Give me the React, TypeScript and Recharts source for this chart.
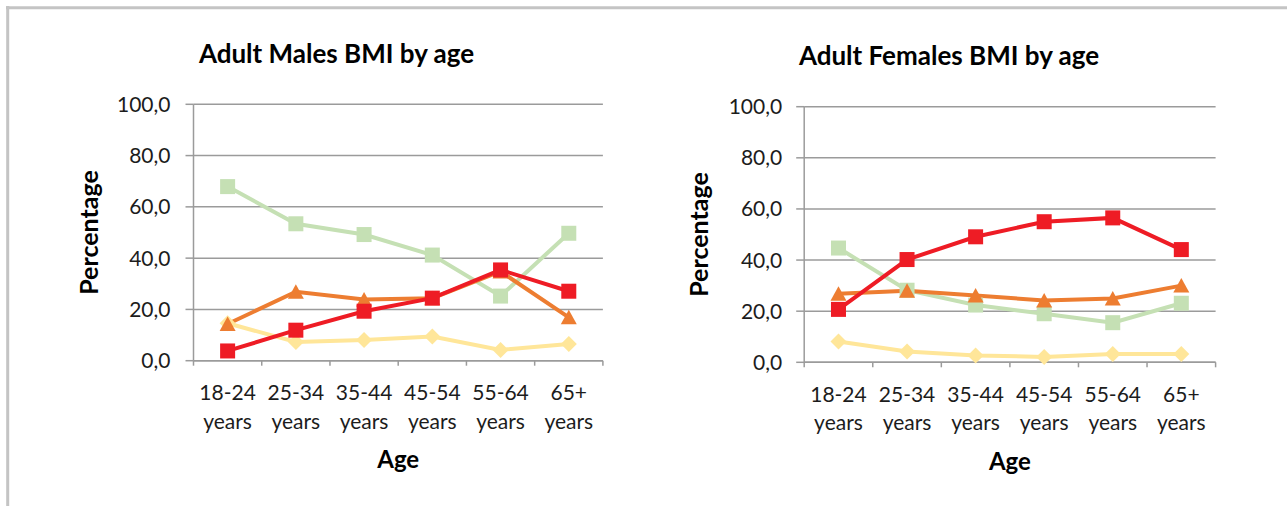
import React from 'react';
import { LineChart, Line, XAxis, YAxis, CartesianGrid, Label } from 'recharts';

const ageGroups = ['18-24 years', '25-34 years', '35-44 years', '45-54 years', '55-64 years', '65+ years'];
const yTicks = [0, 20, 40, 60, 80, 100];

// Males
const maleUnderweight = [14.6, 7.3, 8.1, 9.4, 4.2, 6.5];
const maleNormal = [67.9, 53.4, 49.2, 41.2, 25.2, 49.7];
const maleOverweight = [14.3, 26.9, 23.9, 24.4, 34.8, 16.9];
const maleObese = [3.8, 11.9, 19.3, 24.4, 35.4, 27.1];

// Females
const femaleUnderweight = [8.1, 4.2, 2.7, 2.1, 3.2, 3.2];
const femaleNormal = [44.7, 28.2, 22.4, 19.0, 15.5, 23.1];
const femaleOverweight = [26.8, 28.0, 26.1, 24.2, 25.0, 30.0];
const femaleObese = [20.7, 40.2, 49.1, 55.0, 56.5, 44.1];

const COLORS = {
  underweight: '#FFE699',
  normal: '#C5E0B4',
  overweight: '#ED7D31',
  obese: '#EE1C25',
};
const AXIS_GRAY = '#9b9b9b';
const TEXT = '#1c1c1c';
const FONT = 'Lato, "Open Sans", sans-serif';

const buildRows = (u: number[], n: number[], o: number[], b: number[]) =>
  ageGroups.map((age, i) => ({ age, underweight: u[i], normal: n[i], overweight: o[i], obese: b[i] }));

const maleRows = buildRows(maleUnderweight, maleNormal, maleOverweight, maleObese);
const femaleRows = buildRows(femaleUnderweight, femaleNormal, femaleOverweight, femaleObese);

const fmt = (v: number) => v.toFixed(1).replace('.', ',');

const squareDot = (color: string) => (p: any) => {
  if (p.cx == null || p.cy == null) return <g key={p.index} />;
  return <rect key={p.index} x={p.cx - 7.5} y={p.cy - 7.5} width={15} height={15} fill={color} />;
};
const triangleDot = (color: string) => (p: any) => {
  if (p.cx == null || p.cy == null) return <g key={p.index} />;
  const { cx, cy } = p;
  return <polygon key={p.index} points={`${cx},${cy - 7.5} ${cx + 8},${cy + 7} ${cx - 8},${cy + 7}`} fill={color} />;
};
const diamondDot = (color: string) => (p: any) => {
  if (p.cx == null || p.cy == null) return <g key={p.index} />;
  const { cx, cy } = p;
  return <polygon key={p.index} points={`${cx},${cy - 8} ${cx + 8},${cy} ${cx},${cy + 8} ${cx - 8},${cy}`} fill={color} />;
};

type PanelProps = {
  rows: any[];
  left: number;
  width: number;
  margin: { top: number; right: number; bottom: number; left: number };
  yAxisWidth: number;
  xAxisHeight: number;
  tickMargin: number;
};

function Panel({ rows, left, width, margin, yAxisWidth, xAxisHeight, tickMargin }: PanelProps) {
  const plotWidth = width - margin.left - margin.right - yAxisWidth;
  const half = plotWidth / ageGroups.length / 2;

  const AgeTick = (props: any) => {
    const { x, y, payload, index } = props;
    const [l1, l2] = String(payload.value).split(' ');
    return (
      <g>
        <line x1={x - half} x2={x - half} y1={y} y2={y + 5} stroke={AXIS_GRAY} strokeWidth={1.5} />
        {index === ageGroups.length - 1 && (
          <line x1={x + half} x2={x + half} y1={y} y2={y + 5} stroke={AXIS_GRAY} strokeWidth={1.5} />
        )}
        <text x={x} y={y + 39.5} textAnchor="middle" fill={TEXT} fontSize={21} fontFamily={FONT}>{l1}</text>
        <text x={x} y={y + 67.8} textAnchor="middle" fill={TEXT} fontSize={21} fontFamily={FONT}>{l2}</text>
      </g>
    );
  };

  return (
    <div style={{ position: 'absolute', left, top: 0 }}>
      <LineChart width={width} height={506} data={rows} margin={margin}>
        <CartesianGrid horizontal vertical={false} stroke={AXIS_GRAY} strokeWidth={1.5} />
        <XAxis
          dataKey="age"
          scale="band"
          interval={0}
          height={xAxisHeight}
          axisLine={{ stroke: AXIS_GRAY, strokeWidth: 1.5 }}
          tickLine={false}
          tickSize={0}
          tickMargin={0}
          tick={<AgeTick />}
        >
          <Label
            content={(p: any) => {
              const vb = p.viewBox;
              return (
                <text x={vb.x + vb.width / 2} y={vb.y + 107.5} textAnchor="middle" fill="#000" fontSize={24} fontWeight={700} fontFamily={FONT}>
                  Age
                </text>
              );
            }}
          />
        </XAxis>
        <YAxis
          domain={[0, 100]}
          ticks={yTicks}
          width={yAxisWidth}
          tickFormatter={fmt}
          axisLine={{ stroke: AXIS_GRAY, strokeWidth: 1.5 }}
          tickLine={{ stroke: AXIS_GRAY, strokeWidth: 1.5 }}
          tickSize={8}
          tickMargin={tickMargin}
          tick={{ fill: TEXT, fontSize: 21, fontFamily: FONT }}
        >
          <Label
            content={(p: any) => {
              const vb = p.viewBox;
              const cx = vb.x + vb.width - 96;
              const cy = vb.y + vb.height / 2;
              return (
                <text x={cx} y={cy} transform={`rotate(-90 ${cx} ${cy})`} textAnchor="middle" fill="#000" fontSize={25} fontWeight={700} fontFamily={FONT}>
                  Percentage
                </text>
              );
            }}
          />
        </YAxis>
        <Line dataKey="underweight" stroke={COLORS.underweight} strokeWidth={4} dot={diamondDot(COLORS.underweight)} activeDot={false} isAnimationActive={false} />
        <Line dataKey="normal" stroke={COLORS.normal} strokeWidth={4} dot={squareDot(COLORS.normal)} activeDot={false} isAnimationActive={false} />
        <Line dataKey="overweight" stroke={COLORS.overweight} strokeWidth={4} dot={triangleDot(COLORS.overweight)} activeDot={false} isAnimationActive={false} />
        <Line dataKey="obese" stroke={COLORS.obese} strokeWidth={4} dot={squareDot(COLORS.obese)} activeDot={false} isAnimationActive={false} />
      </LineChart>
    </div>
  );
}

export default function App() {
  return (
    <div style={{ position: 'absolute', left: 0, top: 0, width: 1287, height: 506, background: '#fff', overflow: 'hidden' }}>
      <Panel
        rows={maleRows}
        left={0}
        width={640}
        margin={{ top: 104.3, right: 37.1, bottom: 35.3, left: 0 }}
        yAxisWidth={193.5}
        xAxisHeight={110}
        tickMargin={15}
      />
      <Panel
        rows={femaleRows}
        left={640}
        width={647}
        margin={{ top: 106.7, right: 71.4, bottom: 33.7, left: 0 }}
        yAxisWidth={164.2}
        xAxisHeight={110}
        tickMargin={14}
      />
      <svg width={1287} height={506} style={{ position: 'absolute', left: 0, top: 0, pointerEvents: 'none' }}>
        <line x1={6} x2={1287} y1={7.7} y2={7.7} stroke="#c4c4c4" strokeWidth={3} />
        <line x1={7.7} x2={7.7} y1={6} y2={506} stroke="#c4c4c4" strokeWidth={3} />
        <text x={336.5} y={63.3} textAnchor="middle" fill="#000" fontSize={26} fontWeight={700} fontFamily={FONT}>
          Adult Males BMI by age
        </text>
        <text x={949} y={65} textAnchor="middle" fill="#000" fontSize={26} fontWeight={700} fontFamily={FONT}>
          Adult Females BMI by age
        </text>
      </svg>
    </div>
  );
}
